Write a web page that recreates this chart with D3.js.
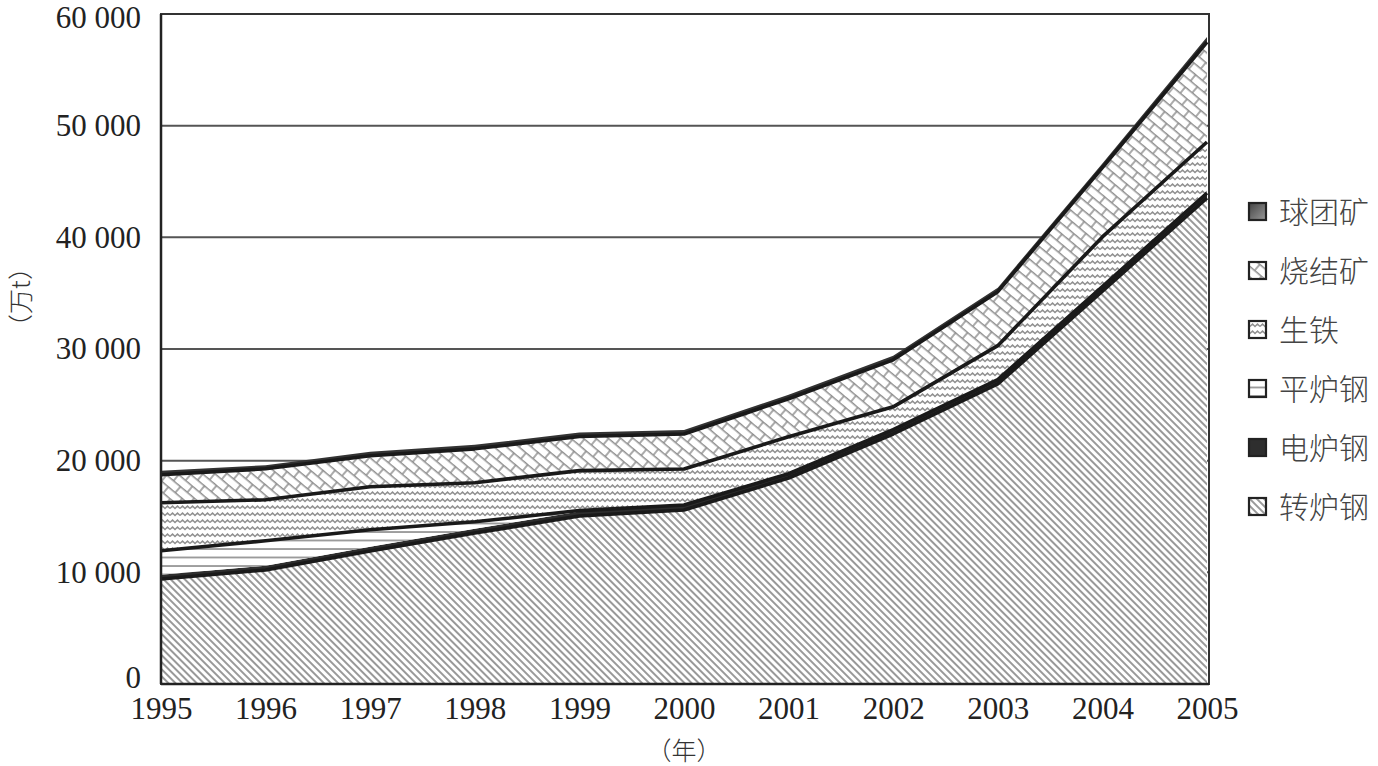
<!DOCTYPE html>
<html><head><meta charset="utf-8">
<script src="https://cdn.jsdelivr.net/npm/d3@7"></script>
<style>
body{margin:0;background:#fff;}
svg{display:block;}
</style></head>
<body>
<svg id="chart" width="1378" height="766"></svg>
<script>
const years = ["1995","1996","1997","1998","1999","2000","2001","2002","2003","2004","2005"];
// series (stacked bottom to top)
const zhuanluGang = [9400,10210,11910,13520,15040,15580,18450,22390,26870,35190,43520]; // 转炉钢
const dianluGang  = [380,380,380,380,400,450,380,380,380,400,450];                     // 电炉钢
const pingluGang  = [2150,2240,1520,630,90,0,0,0,0,0,0];                               // 平炉钢
const shengTie    = [4300,3670,3850,3490,3580,3220,3320,2050,3050,4450,4570];         // 生铁
const shaoJieKuang= [2510,2770,2780,3040,3050,3140,3400,4210,4830,6210,8950];         // 烧结矿
const qiuTuanKuang= [350,330,360,360,360,360,360,360,360,360,450];                     // 球团矿
const seriesNames = ["转炉钢","电炉钢","平炉钢","生铁","烧结矿","球团矿"];
const legendOrder = ["球团矿","烧结矿","生铁","平炉钢","电炉钢","转炉钢"];
const yTicks = [0,10000,20000,30000,40000,50000,60000];

const seriesData = [zhuanluGang,dianluGang,pingluGang,shengTie,shaoJieKuang,qiuTuanKuang];
const table = years.map((y,i)=>{const o={year:y}; seriesNames.forEach((n,k)=>o[n]=seriesData[k][i]); return o;});

const svg = d3.select("#chart");
const L=161, R=1207, T=14, B=684;
const x = d3.scalePoint().domain(years).range([L,R]);
const y = d3.scaleLinear().domain([0,60000]).range([B,T]);

const defs = svg.append("defs");
const grad = defs.append("linearGradient").attr("id","g-qt").attr("x1",0).attr("y1",0).attr("x2",1).attr("y2",1);
grad.append("stop").attr("offset","0%").attr("stop-color","#444");
grad.append("stop").attr("offset","100%").attr("stop-color","#999");
// 转炉钢: diagonal "\" hatch
const p1 = defs.append("pattern").attr("id","p-zl").attr("patternUnits","userSpaceOnUse")
  .attr("width",5).attr("height",5).attr("patternTransform","rotate(-45)");
p1.append("rect").attr("width",5).attr("height",5).attr("fill","#fff");
p1.append("line").attr("x1",1).attr("y1",0).attr("x2",1).attr("y2",5).attr("stroke","#949494").attr("stroke-width",1.9);
// 平炉钢: horizontal lines
const p2 = defs.append("pattern").attr("id","p-pl").attr("patternUnits","userSpaceOnUse")
  .attr("width",10).attr("height",8.5).attr("y",B);
p2.append("rect").attr("width",10).attr("height",8.5).attr("fill","#fff");
p2.append("line").attr("x1",0).attr("y1",1).attr("x2",10).attr("y2",1).attr("stroke","#8a8a8a").attr("stroke-width",1.6);
// 生铁: zigzag waves
const p3 = defs.append("pattern").attr("id","p-st").attr("patternUnits","userSpaceOnUse")
  .attr("width",10).attr("height",7);
p3.append("rect").attr("width",10).attr("height",7).attr("fill","#fff");
p3.append("path").attr("d","M0,4.5 L2.5,2 L5,4.5 L7.5,2 L10,4.5").attr("fill","none").attr("stroke","#8f8f8f").attr("stroke-width",1.5);
// 烧结矿: diagonal bricks
const p4 = defs.append("pattern").attr("id","p-sj").attr("patternUnits","userSpaceOnUse")
  .attr("width",18).attr("height",16).attr("patternTransform","rotate(40)");
p4.append("rect").attr("width",18).attr("height",16).attr("fill","#fff");
p4.append("path").attr("d","M0,0.75 H18 M0,8.75 H18 M1,0 V8 M10,8 V16").attr("fill","none").attr("stroke","#8f8f8f").attr("stroke-width",1.5);

const fills = {"转炉钢":"url(#p-zl)","电炉钢":"#2e2e2e","平炉钢":"url(#p-pl)","生铁":"url(#p-st)","烧结矿":"url(#p-sj)","球团矿":"#333"};
const legendFills = Object.assign({}, fills, {"球团矿":"url(#g-qt)"});

// gridlines
svg.append("g").selectAll("line").data(yTicks.filter(d=>d>0)).join("line")
  .attr("x1",L).attr("x2",R+2).attr("y1",d=>y(d)).attr("y2",d=>y(d))
  .attr("stroke","#555").attr("stroke-width",2);

const stack = d3.stack().keys(seriesNames);
const layers = stack(table);
const area = d3.area().x(d=>x(d.data.year)).y0(d=>y(d[0])).y1(d=>y(d[1]));
const topLine = d3.line().x(d=>x(d.data.year)).y(d=>y(d[1]));

svg.append("g").selectAll("path").data(layers).join("path")
  .attr("d",area).attr("fill",d=>fills[d.key]).attr("stroke","none");
svg.append("g").selectAll("path").data(layers.filter(l=>l.key!=="电炉钢"&&l.key!=="球团矿")).join("path")
  .attr("d",topLine).attr("fill","none").attr("stroke","#1a1a1a").attr("stroke-width",3.6).attr("stroke-linejoin","round");

// frame
svg.append("rect").attr("x",L).attr("y",T).attr("width",R-L+2).attr("height",B-T)
  .attr("fill","none").attr("stroke","#333").attr("stroke-width",2);
svg.append("line").attr("x1",L).attr("x2",L).attr("y1",T).attr("y2",B).attr("stroke","#222").attr("stroke-width",2.5);
svg.append("line").attr("x1",L).attr("x2",R+2).attr("y1",B).attr("y2",B).attr("stroke","#222").attr("stroke-width",2.5);

// axes
const fmt = v => d3.format(",")(v).replace(/,/g," ");
const yAxis = d3.axisLeft(y).tickValues(yTicks).tickFormat(fmt).tickSize(0).tickPadding(20);
const gy = svg.append("g").attr("transform",`translate(${L},0)`).call(yAxis);
gy.select(".domain").remove();
gy.selectAll("text").attr("font-family","'Liberation Serif',serif").attr("font-size",31).attr("fill","#222");
gy.selectAll(".tick").filter(d=>d===60000).select("text").attr("dy","0.45em");
gy.selectAll(".tick").filter(d=>d===0).select("text").attr("dy","0.1em");

const xAxis = d3.axisBottom(x).tickSize(0).tickPadding(13);
const gx = svg.append("g").attr("transform",`translate(0,${B})`).call(xAxis);
gx.select(".domain").remove();
gx.selectAll("text").attr("font-family","'Liberation Serif',serif").attr("font-size",31).attr("fill","#222");

svg.append("text").attr("x",684).attr("y",760).attr("text-anchor","middle")
  .attr("font-family","'Noto Sans CJK SC',sans-serif").attr("font-weight",300).attr("font-size",25).attr("fill","#333").text("（年）");
svg.append("text").attr("transform","translate(30,297) rotate(-90)").attr("text-anchor","middle")
  .attr("font-family","'Noto Sans CJK SC',sans-serif").attr("font-weight",300).attr("font-size",25).attr("fill","#333").text("（万t）");

// legend
const lg = svg.append("g");
legendOrder.forEach((n,i)=>{
  const cy = 212 + i*59;
  lg.append("rect").attr("x",1249).attr("y",cy-9).attr("width",17).attr("height",17)
    .attr("fill",legendFills[n]).attr("stroke","#222").attr("stroke-width",2.2);
  lg.append("text").attr("x",1279).attr("y",cy+11).attr("font-family","'Noto Sans CJK SC',sans-serif")
    .attr("font-weight",300).attr("font-size",30).attr("fill","#444").text(n);
});
</script>
</body></html>
